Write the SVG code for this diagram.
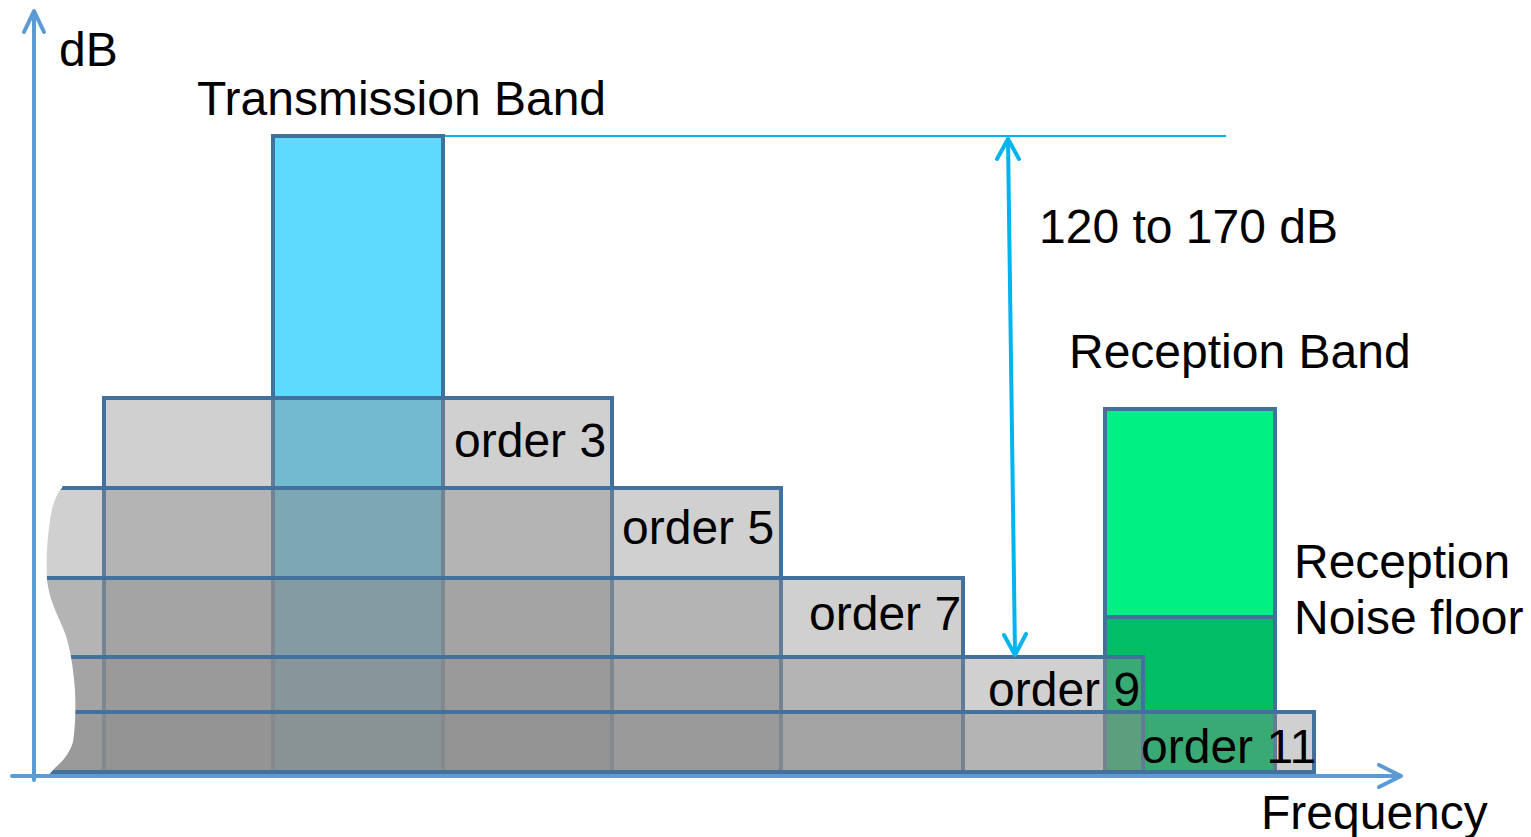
<svg xmlns="http://www.w3.org/2000/svg" width="1531" height="837" viewBox="0 0 1531 837">
  <style>
    .lbl { font-family: "Liberation Sans", Arial, sans-serif; font-size: 48px; fill: #000; }
    .band { fill: #8D8D8D; fill-opacity: 0.41; stroke: #41719C; stroke-width: 4; }
    .edge { stroke: #41719C; stroke-width: 4; }
    .axis { stroke: #5B9BD5; stroke-width: 4; fill: none; stroke-linecap: round; stroke-linejoin: round; }
    .span { stroke: #00B4F0; stroke-width: 4; fill: none; stroke-linecap: round; stroke-linejoin: round; }
  </style>

  <rect width="1531" height="837" fill="#fff"/>

  <!-- reference level line at the top of the transmission band -->
  <line x1="443" y1="136" x2="1226" y2="136" stroke="#00B4F0" stroke-width="2"/>

  <!-- transmission band -->
  <g id="transmission-band">
    <rect x="273" y="136" width="170" height="636" fill="#5FDAFF" class="edge"/>
  </g>

  <!-- reception band: signal above, noise floor below -->
  <g id="reception-band">
    <rect x="1105" y="409" width="170" height="208" fill="#00F084" class="edge"/>
    <rect x="1105" y="617" width="170" height="155" fill="#00BE64" class="edge"/>
  </g>

  <!-- intermodulation product bands, translucent and stacked -->
  <g id="order-3"><rect class="band" x="104" y="398" width="508" height="374"/></g>
  <g id="order-5"><rect class="band" x="40" y="488" width="741" height="284"/></g>
  <g id="order-7"><rect class="band" x="40" y="578" width="923" height="194"/></g>
  <g id="order-9"><rect class="band" x="40" y="657" width="1103" height="115"/></g>
  <g id="order-11"><rect class="band" x="40" y="712" width="1274" height="60"/></g>

  <!-- torn left edge of the stacked bands -->
  <path fill="#fff" d="M36 480 L64 480 L62 488 C56 495 52 505 50 520 C47 540 46 560 47 580 C49 598 56 612 63 628 C70 645 73 665 75 690 C76 710 75 730 73 742 C70 752 64 760 57 766 C53 770 50 773 48 776 L36 776 Z"/>

  <!-- axes -->
  <g id="axes">
    <line class="axis" x1="34" y1="12" x2="34" y2="780"/>
    <polyline class="axis" points="24,32 34,11 44,32"/>
    <line class="axis" x1="12" y1="776" x2="1400" y2="776"/>
    <polyline class="axis" points="1379,765 1401,776 1379,787"/>
  </g>

  <!-- dynamic range span -->
  <g id="connectors">
    <line class="span" x1="1008" y1="139" x2="1015" y2="654"/>
    <polyline class="span" points="997,159 1008,139 1019,159"/>
    <polyline class="span" points="1004,635 1015,655 1026,634"/>
  </g>

  <!-- labels -->
  <g id="labels">
    <text class="lbl" x="59" y="66">dB</text>
    <text class="lbl" x="197" y="115">Transmission Band</text>
    <text class="lbl" x="1039" y="243">120 to 170 dB</text>
    <text class="lbl" x="1069" y="368">Reception Band</text>
    <text class="lbl" x="454" y="457">order 3</text>
    <text class="lbl" x="622" y="544">order 5</text>
    <text class="lbl" x="809" y="630">order 7</text>
    <text class="lbl" x="988" y="706">order 9</text>
    <text class="lbl" x="1141" y="763">order 11</text>
    <text class="lbl" x="1294" y="578">Reception</text>
    <text class="lbl" x="1294" y="634">Noise floor</text>
    <text class="lbl" x="1261" y="829">Frequency</text>
  </g>
</svg>
